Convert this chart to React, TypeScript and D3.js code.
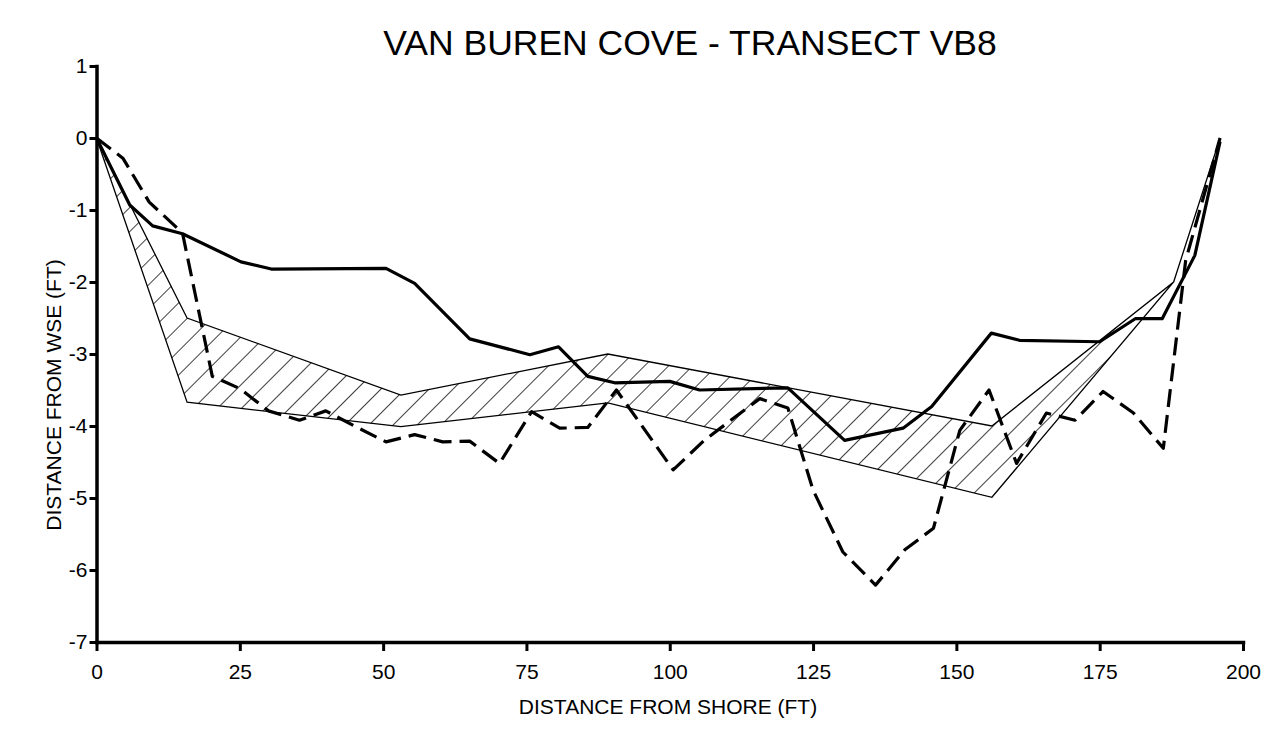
import React, { useEffect, useRef } from 'react';
import * as d3 from 'd3';

// Surveyed profile (solid line)
const solidX = [0, 5.8, 9.8, 15, 25.2, 30.5, 50.5, 55.5, 65.1, 75.6, 80.6, 85.7, 90.4, 100, 105.2, 120.6, 130.5, 140.7, 145.7, 156.1, 161, 175, 181.2, 185.9, 191.6, 196];
const solidY = [0, -0.93, -1.22, -1.33, -1.72, -1.82, -1.81, -2.02, -2.79, -3.01, -2.9, -3.31, -3.4, -3.38, -3.5, -3.47, -4.2, -4.03, -3.73, -2.71, -2.81, -2.83, -2.51, -2.51, -1.63, -0.05];

// Second profile (dashed line)
const dashX = [0, 4.6, 9.2, 15, 20.2, 25, 30, 35.4, 40, 45, 50.5, 55.5, 60.4, 65.1, 70.3, 75.9, 80.8, 85.7, 90.7, 100.6, 106, 111, 115.7, 120.6, 125, 130.2, 135.9, 141, 146, 150.6, 155.7, 160.5, 165.7, 170.7, 175.6, 180.9, 186.1, 190, 196];
const dashY = [0, -0.28, -0.89, -1.32, -3.31, -3.48, -3.79, -3.92, -3.79, -4.0, -4.22, -4.12, -4.22, -4.21, -4.52, -3.8, -4.03, -4.02, -3.5, -4.61, -4.2, -3.9, -3.62, -3.75, -4.89, -5.75, -6.21, -5.72, -5.42, -4.06, -3.5, -4.52, -3.82, -3.92, -3.52, -3.82, -4.31, -1.7, 0];

// Design template (hatched band)
const bandX = [0, 15.8, 53.1, 89.2, 156.2, 187.9, 196];
const bandTop = [0, -2.5, -3.57, -3.0, -4.0, -2.0, 0];
const bandBottom = [0, -3.67, -4.01, -3.68, -4.99, -2.0, 0];

const xTicks = [0, 25, 50, 75, 100, 125, 150, 175, 200];
const yTicks = [1, 0, -1, -2, -3, -4, -5, -6, -7];

const FONT = "'Liberation Sans', Arial, Helvetica, sans-serif";

const App = () => {
  const ref = useRef<SVGSVGElement | null>(null);

  useEffect(() => {
    const width = 1281;
    const height = 738;

    const x = d3.scaleLinear().domain([0, 200]).range([96.5, 1243]);
    const y = d3.scaleLinear().domain([-7, 1]).range([642, 66]);

    const svg = d3.select(ref.current);
    svg.selectAll('*').remove();
    svg.attr('width', width).attr('height', height);

    // hatch pattern
    const defs = svg.append('defs');
    defs.append('pattern')
      .attr('id', 'hatch')
      .attr('patternUnits', 'userSpaceOnUse')
      .attr('width', 17)
      .attr('height', 17)
      .attr('patternTransform', 'rotate(45)')
      .append('line')
      .attr('x1', 0).attr('y1', 0)
      .attr('x2', 0).attr('y2', 17)
      .attr('stroke', '#000')
      .attr('stroke-width', 1.5);

    const band = bandX.map((d, i) => ({ x: d, top: bandTop[i], bottom: bandBottom[i] }));
    const area = d3.area<{ x: number; top: number; bottom: number }>()
      .x(d => x(d.x))
      .y0(d => y(d.bottom))
      .y1(d => y(d.top));

    svg.append('path')
      .datum(band)
      .attr('d', area)
      .attr('fill', 'url(#hatch)')
      .attr('stroke', '#000')
      .attr('stroke-width', 1.3);

    const line = d3.line<[number, number]>()
      .x(d => x(d[0]))
      .y(d => y(d[1]));

    svg.append('path')
      .datum(solidX.map((d, i) => [d, solidY[i]] as [number, number]))
      .attr('d', line)
      .attr('fill', 'none')
      .attr('stroke', '#000')
      .attr('stroke-width', 3.2)
      .attr('stroke-linejoin', 'round');

    svg.append('path')
      .datum(dashX.map((d, i) => [d, dashY[i]] as [number, number]))
      .attr('d', line)
      .attr('fill', 'none')
      .attr('stroke', '#000')
      .attr('stroke-width', 3.2)
      .attr('stroke-dasharray', '18,8')
      .attr('stroke-linejoin', 'round');

    // axes
    const yAxis = svg.append('g')
      .attr('transform', `translate(${x(0)},0)`)
      .call(d3.axisLeft(y).tickValues(yTicks).tickFormat(d => String(d)).tickSize(7).tickSizeOuter(0).tickPadding(2));

    const xAxis = svg.append('g')
      .attr('transform', `translate(0,${y(-7)})`)
      .call(d3.axisBottom(x).tickValues(xTicks).tickFormat(d => String(d)).tickSize(9).tickSizeOuter(0).tickPadding(13));

    [yAxis, xAxis].forEach(g => {
      g.select('.domain').attr('stroke-width', 3.5).attr('stroke-linecap', 'square');
      g.selectAll('.tick line').attr('stroke-width', 3);
      g.selectAll('.tick text')
        .attr('font-family', FONT)
        .attr('font-size', 21)
        .attr('fill', '#000');
    });

    // titles
    svg.append('text')
      .attr('x', 690)
      .attr('y', 55)
      .attr('text-anchor', 'middle')
      .attr('font-family', FONT)
      .attr('font-size', 35.5)
      .text('VAN BUREN COVE - TRANSECT VB8');

    svg.append('text')
      .attr('x', 668)
      .attr('y', 714)
      .attr('text-anchor', 'middle')
      .attr('font-family', FONT)
      .attr('font-size', 21)
      .text('DISTANCE FROM SHORE (FT)');

    svg.append('text')
      .attr('transform', 'translate(61,395) rotate(-90)')
      .attr('text-anchor', 'middle')
      .attr('font-family', FONT)
      .attr('font-size', 21)
      .text('DISTANCE FROM WSE (FT)');

    return () => {
      d3.select(ref.current).selectAll('*').remove();
    };
  }, []);

  return (
    <svg ref={ref} style={{ position: 'absolute', left: 0, top: 0, background: '#fff' }} />
  );
};

export default App;
